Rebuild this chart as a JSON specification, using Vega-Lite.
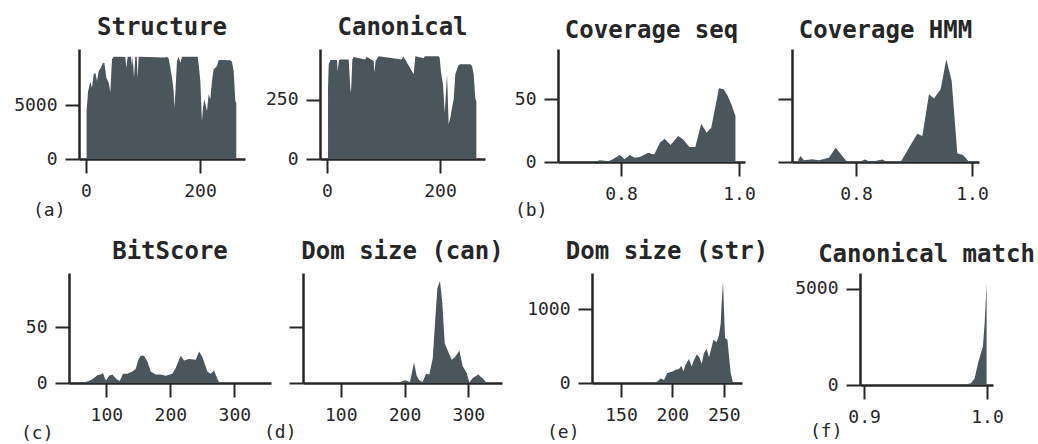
{
  "$schema": "https://vega.github.io/schema/vega-lite/v6.json",
  "autosize": {"type": "pad"},
  "padding": {"left": 12, "top": 16, "right": 0, "bottom": 0},
  "background": "white",
  "config": {
    "view": {"stroke": null},
    "font": "DejaVu Sans Mono",
    "axis": {
      "grid": false, "domainColor": "#262626", "domainWidth": 2.5, "domainCap": "butt",
      "tickColor": "#262626", "tickWidth": 2, "tickSize": 14,
      "labelFont": "DejaVu Sans Mono", "labelFontSize": 18, "labelColor": "#262626",
      "labelFlush": false, "labelOverlap": false,
      "titleFont": "DejaVu Sans Mono", "titleFontSize": 18, "titleFontWeight": "normal", "titleColor": "#262626",
      "zindex": 1
    },
    "axisX": {"labelPadding": 9},
    "axisY": {"labelPadding": 8},
    "title": {"font": "DejaVu Sans Mono", "fontSize": 24, "fontWeight": "bold", "color": "#262626", "anchor": "middle", "offset": 9, "baseline": "alphabetic"},
    "area": {"color": "#4b555c", "clip": true}
  },
  "datasets": {
    "structure": [
      {"x": 1, "y": 4400}, {"x": 3.5, "y": 6200}, {"x": 6.4, "y": 6900}, {"x": 8, "y": 7100}, {"x": 10.5, "y": 6600},
      {"x": 13.5, "y": 7840}, {"x": 16.4, "y": 7990}, {"x": 19.3, "y": 7220}, {"x": 22.2, "y": 8150}, {"x": 26.3, "y": 8460},
      {"x": 29.8, "y": 8920}, {"x": 32.2, "y": 8900}, {"x": 35.7, "y": 7530}, {"x": 39.8, "y": 7070}, {"x": 42.7, "y": 6200},
      {"x": 45.6, "y": 9230}, {"x": 48.5, "y": 9476}, {"x": 60, "y": 9476}, {"x": 69, "y": 9450}, {"x": 70.8, "y": 8457},
      {"x": 73.1, "y": 9476}, {"x": 79, "y": 9476}, {"x": 80.7, "y": 8612}, {"x": 82, "y": 9476}, {"x": 84.2, "y": 7532},
      {"x": 86.5, "y": 9476}, {"x": 89, "y": 9476}, {"x": 90.6, "y": 7532}, {"x": 92.4, "y": 9476}, {"x": 139, "y": 9400},
      {"x": 142, "y": 9476}, {"x": 145, "y": 9300}, {"x": 148, "y": 8457}, {"x": 150.9, "y": 7532}, {"x": 153.8, "y": 6297},
      {"x": 155, "y": 4753}, {"x": 156.7, "y": 5988}, {"x": 159.6, "y": 9075}, {"x": 162.6, "y": 9476}, {"x": 165.5, "y": 8920},
      {"x": 168.4, "y": 9476}, {"x": 195.9, "y": 9476}, {"x": 197.7, "y": 8766}, {"x": 200.6, "y": 7224}, {"x": 203.5, "y": 3519},
      {"x": 205.3, "y": 4753}, {"x": 207.6, "y": 5525}, {"x": 210, "y": 5000}, {"x": 212.3, "y": 4445}, {"x": 215.2, "y": 5988},
      {"x": 218.1, "y": 5525}, {"x": 221, "y": 7224}, {"x": 224, "y": 8303}, {"x": 226.9, "y": 8457}, {"x": 229.8, "y": 8612},
      {"x": 232.7, "y": 9136}, {"x": 235.7, "y": 9167}, {"x": 253.2, "y": 9136}, {"x": 256.1, "y": 9013}, {"x": 259.1, "y": 8149},
      {"x": 262, "y": 5371}, {"x": 263.7, "y": 5216}
    ],
    "canonical": [
      {"x": 1.8, "y": 300}, {"x": 3, "y": 400}, {"x": 6, "y": 419}, {"x": 17.7, "y": 419}, {"x": 18.9, "y": 373},
      {"x": 21.2, "y": 419}, {"x": 23.6, "y": 422}, {"x": 38.3, "y": 422}, {"x": 41.3, "y": 300}, {"x": 42.5, "y": 281},
      {"x": 44.8, "y": 422}, {"x": 47.2, "y": 432}, {"x": 67.8, "y": 422}, {"x": 70, "y": 433}, {"x": 82.6, "y": 415},
      {"x": 83.8, "y": 366}, {"x": 86.1, "y": 415}, {"x": 91.4, "y": 435}, {"x": 132.7, "y": 422}, {"x": 135, "y": 435},
      {"x": 153.4, "y": 359}, {"x": 156.3, "y": 435}, {"x": 171.1, "y": 427}, {"x": 173, "y": 435}, {"x": 197.6, "y": 435},
      {"x": 199.4, "y": 429}, {"x": 201.8, "y": 366}, {"x": 205.3, "y": 316}, {"x": 208.3, "y": 196}, {"x": 212.4, "y": 359},
      {"x": 215.3, "y": 147}, {"x": 218.3, "y": 175}, {"x": 221.2, "y": 217}, {"x": 224.2, "y": 253}, {"x": 227.1, "y": 359},
      {"x": 230.1, "y": 380}, {"x": 233, "y": 398}, {"x": 236, "y": 401}, {"x": 253.7, "y": 401}, {"x": 256.6, "y": 394},
      {"x": 259.6, "y": 359}, {"x": 262.5, "y": 253}, {"x": 264.3, "y": 246}
    ],
    "covseq": [
      {"x": 0.7, "y": 0}, {"x": 0.755, "y": 0}, {"x": 0.764, "y": 1.3}, {"x": 0.772, "y": 1}, {"x": 0.778, "y": 0.3},
      {"x": 0.786, "y": 2.1}, {"x": 0.798, "y": 5.5}, {"x": 0.806, "y": 2.1}, {"x": 0.815, "y": 5.5}, {"x": 0.823, "y": 3.4},
      {"x": 0.832, "y": 4}, {"x": 0.846, "y": 7.4}, {"x": 0.854, "y": 6.1}, {"x": 0.857, "y": 6.6}, {"x": 0.866, "y": 15.3},
      {"x": 0.874, "y": 18.5}, {"x": 0.884, "y": 13.5}, {"x": 0.897, "y": 20.6}, {"x": 0.905, "y": 18}, {"x": 0.916, "y": 11.9},
      {"x": 0.926, "y": 11.9}, {"x": 0.936, "y": 30.4}, {"x": 0.945, "y": 23.3}, {"x": 0.953, "y": 27.2}, {"x": 0.966, "y": 58.5},
      {"x": 0.974, "y": 57.7}, {"x": 0.981, "y": 52.4}, {"x": 0.987, "y": 45.8}, {"x": 0.994, "y": 36.5}
    ],
    "covhmm": [
      {"x": 0.7006, "y": 2}, {"x": 0.7046, "y": 4.8}, {"x": 0.7103, "y": 1.3}, {"x": 0.7247, "y": 2.1}, {"x": 0.7362, "y": 1.3},
      {"x": 0.7534, "y": 3.4}, {"x": 0.765, "y": 11.4}, {"x": 0.7764, "y": 4.8}, {"x": 0.785, "y": 0}, {"x": 0.8052, "y": 0},
      {"x": 0.8155, "y": 2}, {"x": 0.8253, "y": 0}, {"x": 0.8454, "y": 2}, {"x": 0.854, "y": 0}, {"x": 0.877, "y": 0},
      {"x": 0.8914, "y": 11.4}, {"x": 0.9057, "y": 22.5}, {"x": 0.9144, "y": 20.6}, {"x": 0.9259, "y": 53.7}, {"x": 0.9345, "y": 50.5},
      {"x": 0.946, "y": 57.7}, {"x": 0.9557, "y": 81.5}, {"x": 0.965, "y": 64.3}, {"x": 0.9747, "y": 6.9}, {"x": 0.9845, "y": 5.5},
      {"x": 0.9937, "y": 0.8}
    ],
    "bitscore": [
      {"x": 44.3, "y": 0}, {"x": 57.3, "y": 0.9}, {"x": 67.8, "y": 0.9}, {"x": 75.6, "y": 2.4}, {"x": 80.8, "y": 4.5},
      {"x": 86, "y": 6.9}, {"x": 91.2, "y": 7.5}, {"x": 94.8, "y": 9}, {"x": 98, "y": 3.6}, {"x": 100, "y": 2.4},
      {"x": 104.2, "y": 6.5}, {"x": 109.4, "y": 7.5}, {"x": 115.6, "y": 3.6}, {"x": 120.9, "y": 1.7}, {"x": 126.1, "y": 8.3},
      {"x": 132.8, "y": 8.3}, {"x": 140.6, "y": 10.4}, {"x": 145.9, "y": 12.5}, {"x": 150, "y": 20.8}, {"x": 153.7, "y": 24.4},
      {"x": 158.9, "y": 24.4}, {"x": 164.1, "y": 19.3}, {"x": 169.4, "y": 10.4}, {"x": 177.2, "y": 7.5}, {"x": 185, "y": 7.5},
      {"x": 192.8, "y": 6.5}, {"x": 203.2, "y": 8.3}, {"x": 208.4, "y": 13.4}, {"x": 216.3, "y": 24.4}, {"x": 221.4, "y": 20.2},
      {"x": 229.2, "y": 21.4}, {"x": 239.7, "y": 20.8}, {"x": 244.9, "y": 28.3}, {"x": 250.1, "y": 23.2}, {"x": 257.9, "y": 10.4},
      {"x": 263.1, "y": 8.3}, {"x": 268.3, "y": 11.3}, {"x": 273.6, "y": 3.6}, {"x": 276.2, "y": 0.6}
    ],
    "domcan": [
      {"x": 190, "y": 0}, {"x": 193, "y": 1}, {"x": 200.8, "y": 2.4}, {"x": 208.6, "y": 1}, {"x": 214.9, "y": 18.4},
      {"x": 219.1, "y": 6.5}, {"x": 223.2, "y": 2.4}, {"x": 228.5, "y": 1}, {"x": 233.7, "y": 8.3}, {"x": 238.9, "y": 7.5},
      {"x": 244.2, "y": 22}, {"x": 247.8, "y": 53.6}, {"x": 251.5, "y": 84.8}, {"x": 255.6, "y": 91.3}, {"x": 259.3, "y": 71.4},
      {"x": 263, "y": 35.7}, {"x": 266.1, "y": 31.3}, {"x": 274, "y": 20.8}, {"x": 279.2, "y": 23.2}, {"x": 286, "y": 29.2},
      {"x": 291.2, "y": 14.9}, {"x": 297.5, "y": 9}, {"x": 301.6, "y": 0.5}, {"x": 306.9, "y": 4.5}, {"x": 315.7, "y": 7.5},
      {"x": 323.5, "y": 3.6}, {"x": 328.8, "y": 0}
    ],
    "domstr": [
      {"x": 182, "y": 0}, {"x": 185.4, "y": 20}, {"x": 188.6, "y": 60}, {"x": 191.9, "y": 40}, {"x": 195.1, "y": 135},
      {"x": 200, "y": 155}, {"x": 203.2, "y": 180}, {"x": 206.5, "y": 190}, {"x": 208.8, "y": 235}, {"x": 210.7, "y": 160},
      {"x": 213, "y": 250}, {"x": 216.2, "y": 325}, {"x": 218.8, "y": 225}, {"x": 221.1, "y": 310}, {"x": 223.7, "y": 385},
      {"x": 226, "y": 355}, {"x": 228.6, "y": 260}, {"x": 230.8, "y": 405}, {"x": 233.4, "y": 460}, {"x": 235.7, "y": 350},
      {"x": 238, "y": 470}, {"x": 239.9, "y": 585}, {"x": 243.2, "y": 550}, {"x": 245.4, "y": 650}, {"x": 247.1, "y": 810},
      {"x": 248, "y": 1080}, {"x": 249.3, "y": 1372}, {"x": 250.3, "y": 990}, {"x": 251.3, "y": 610}, {"x": 253.6, "y": 585},
      {"x": 255.2, "y": 360}, {"x": 256.8, "y": 135}, {"x": 259.1, "y": 0}
    ],
    "canmatch": [
      {"x": 0.975, "y": 0}, {"x": 0.982, "y": 20}, {"x": 0.987, "y": 90}, {"x": 0.99, "y": 350}, {"x": 0.9927, "y": 1130},
      {"x": 0.9954, "y": 1735}, {"x": 0.9967, "y": 2000}, {"x": 0.9981, "y": 3210}, {"x": 0.9989, "y": 4250}, {"x": 0.9997, "y": 5300}
    ]
  },
  "columns": 1,
  "align": "none",
  "spacing": 21,
  "concat": [
    {
      "spacing": 0,
      "hconcat": [
        {"width": 1, "height": 1, "data": {"values": []}, "mark": {"type": "point", "opacity": 0}},
        {
          "title": "Structure", "width": 166, "height": 110,
          "data": {"name": "structure"}, "mark": "area",
          "encoding": {
            "x": {"field": "x", "type": "quantitative", "scale": {"domain": [-12.3, 279], "nice": false, "zero": false},
                  "axis": {"values": [0, 200], "format": "d", "title": "(a)", "titleX": -46.5, "titleY": 56, "titleAlign": "left", "titleBaseline": "alphabetic"}},
            "y": {"field": "y", "type": "quantitative", "scale": {"domain": [0, 10186], "nice": false},
                  "axis": {"values": [0, 5000], "format": "d", "title": null, "minExtent": 66}}
          }
        },
        {
          "title": "Canonical", "width": 165, "height": 110,
          "data": {"name": "canonical"}, "mark": "area",
          "encoding": {
            "x": {"field": "x", "type": "quantitative", "scale": {"domain": [-12.4, 279.6], "nice": false, "zero": false},
                  "axis": {"values": [0, 200], "format": "d", "title": null}},
            "y": {"field": "y", "type": "quantitative", "scale": {"domain": [0, 466], "nice": false},
                  "axis": {"values": [0, 250], "format": "d", "title": null, "minExtent": 75}}
          }
        },
        {
          "title": {"text": "Coverage seq", "offset": 6}, "width": 187, "height": 113,
          "data": {"name": "covseq"}, "mark": "area",
          "encoding": {
            "x": {"field": "x", "type": "quantitative", "scale": {"domain": [0.6932, 1.0102], "nice": false, "zero": false},
                  "axis": {"values": [0.8, 1.0], "format": ".1f", "title": "(b)", "titleX": -43.5, "titleY": 53, "titleAlign": "left", "titleBaseline": "alphabetic"}},
            "y": {"field": "y", "type": "quantitative", "scale": {"domain": [0, 89.7], "nice": false},
                  "axis": {"values": [0, 50], "format": "d", "title": null, "minExtent": 73}}
          }
        },
        {
          "title": {"text": "Coverage HMM", "offset": 6}, "width": 187, "height": 113,
          "data": {"name": "covhmm"}, "mark": "area",
          "encoding": {
            "x": {"field": "x", "type": "quantitative", "scale": {"domain": [0.6897, 1.0121], "nice": false, "zero": false},
                  "axis": {"values": [0.8, 1.0], "format": ".1f", "title": null}},
            "y": {"field": "y", "type": "quantitative", "scale": {"domain": [0, 89.7], "nice": false},
                  "axis": {"values": [0, 50], "labels": false, "title": null, "minExtent": 36}}
          }
        }
      ]
    },
    {
      "spacing": -15,
      "hconcat": [
        {"width": 15, "height": 1, "data": {"values": []}, "mark": {"type": "point", "opacity": 0}},
        {
          "title": "BitScore", "width": 202, "height": 110,
          "data": {"name": "bitscore"}, "mark": "area",
          "encoding": {
            "x": {"field": "x", "type": "quantitative", "scale": {"domain": [41.7, 357.3], "nice": false, "zero": false},
                  "axis": {"values": [100, 200, 300], "format": "d", "title": "(c)", "titleX": -48.5, "titleY": 55, "titleAlign": "left", "titleBaseline": "alphabetic"}},
            "y": {"field": "y", "type": "quantitative", "scale": {"domain": [0, 98.5], "nice": false},
                  "axis": {"values": [0, 50], "format": "d", "title": null, "minExtent": 57}}
          }
        },
        {
          "title": "Dom size (can)", "width": 199, "height": 110,
          "data": {"name": "domcan"}, "mark": "area",
          "encoding": {
            "x": {"field": "x", "type": "quantitative", "scale": {"domain": [40.9, 352.8], "nice": false, "zero": false},
                  "axis": {"values": [100, 200, 300], "format": "d", "title": "(d)", "titleX": -39.5, "titleY": 54.5, "titleAlign": "left", "titleBaseline": "alphabetic"}},
            "y": {"field": "y", "type": "quantitative", "scale": {"domain": [0, 98.5], "nice": false},
                  "axis": {"values": [0, 50], "labels": false, "title": null, "minExtent": 47}}
          }
        },
        {
          "title": "Dom size (str)", "width": 150, "height": 110,
          "data": {"name": "domstr"}, "mark": "area",
          "encoding": {
            "x": {"field": "x", "type": "quantitative", "scale": {"domain": [121.8, 267.8], "nice": false, "zero": false},
                  "axis": {"values": [150, 200, 250], "format": "d", "title": "(e)", "titleX": -45.5, "titleY": 54.5, "titleAlign": "left", "titleBaseline": "alphabetic"}},
            "y": {"field": "y", "type": "quantitative", "scale": {"domain": [0, 1489], "nice": false},
                  "axis": {"values": [0, 1000], "format": "d", "title": null, "minExtent": 103}}
          }
        },
        {
          "title": {"text": "Canonical match", "offset": 6}, "width": 133, "height": 112,
          "data": {"name": "canmatch"}, "mark": "area",
          "encoding": {
            "x": {"field": "x", "type": "quantitative", "scale": {"domain": [0.8967, 1.0049], "nice": false, "zero": false},
                  "axis": {"values": [0.9, 1.0], "format": ".1f", "title": "(f)", "titleX": -50.5, "titleY": 51, "titleAlign": "left", "titleBaseline": "alphabetic"}},
            "y": {"field": "y", "type": "quantitative", "scale": {"domain": [0, 5833], "nice": false},
                  "axis": {"values": [0, 5000], "format": "d", "title": null, "minExtent": 106}}
          }
        }
      ]
    }
  ]
}
